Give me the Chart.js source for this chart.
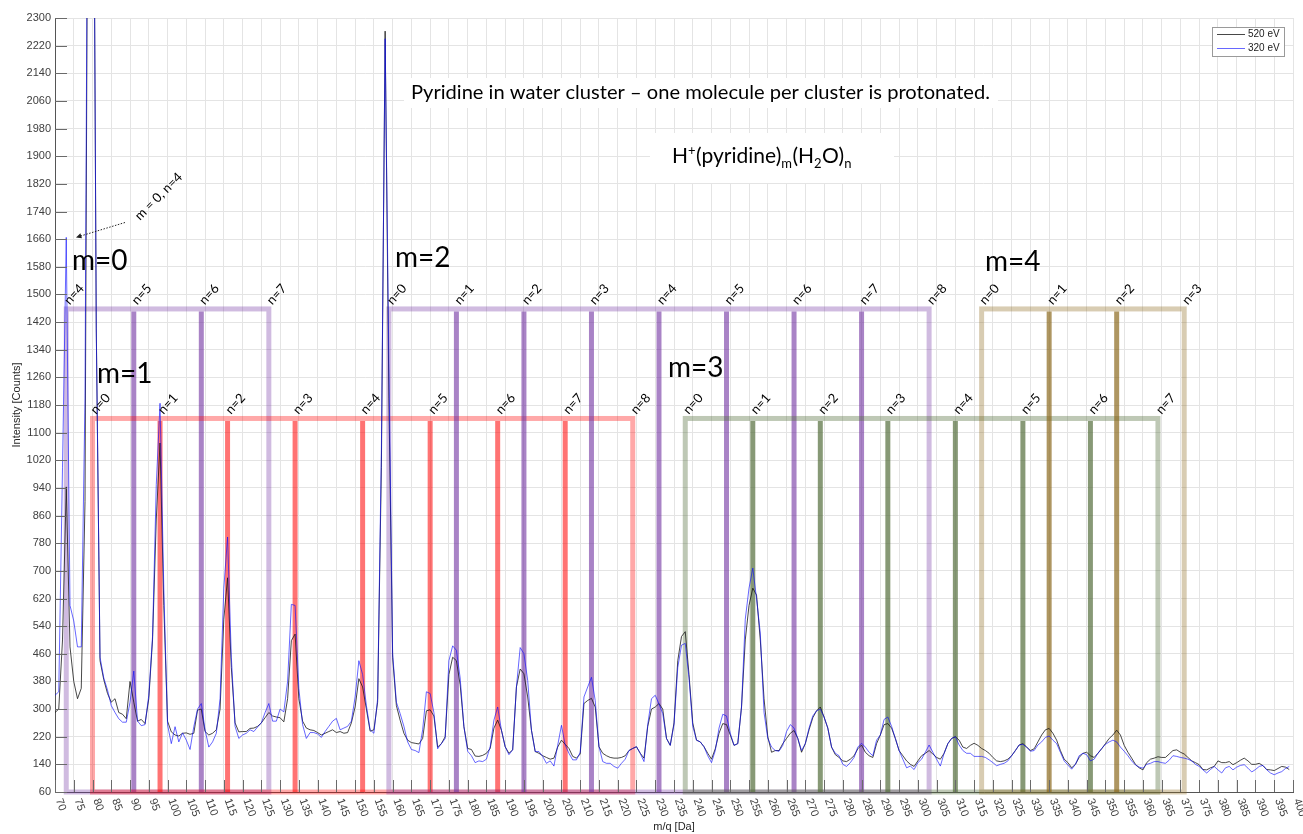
<!DOCTYPE html>
<html><head><meta charset="utf-8">
<script src="https://cdn.jsdelivr.net/npm/chart.js@4.4.0/dist/chart.umd.min.js"></script>
<style>html,body{margin:0;padding:0;background:#fff;overflow:hidden}canvas{display:block}</style>
</head><body>
<canvas id="c" width="1303" height="834"></canvas>
<script>
// ---------- data ----------
const massAxis = [
70,71,72,73,74,75,76,77,78,79,80,81,82,83,84,85,86,87,88,89,
90,91,92,93,94,95,96,97,98,99,100,101,102,103,104,105,106,107,108,109,
110,111,112,113,114,115,116,117,118,119,120,121,122,123,124,125,126,127,128,129,
130,131,132,133,134,135,136,137,138,139,140,141,142,143,144,145,146,147,148,149,
150,151,152,153,154,155,156,157,158,159,160,161,162,163,164,165,166,167,168,169,
170,171,172,173,174,175,176,177,178,179,180,181,182,183,184,185,186,187,188,189,
190,191,192,193,194,195,196,197,198,199,200,201,202,203,204,205,206,207,208,209,
210,211,212,213,214,215,216,217,218,219,220,221,222,223,224,225,226,227,228,229,
230,231,232,233,234,235,236,237,238,239,240,241,242,243,244,245,246,247,248,249,
250,251,252,253,254,255,256,257,258,259,260,261,262,263,264,265,266,267,268,269,
270,271,272,273,274,275,276,277,278,279,280,281,282,283,284,285,286,287,288,289,
290,291,292,293,294,295,296,297,298,299,300,301,302,303,304,305,306,307,308,309,
310,311,312,313,314,315,316,317,318,319,320,321,322,323,324,325,326,327,328,329,
330,331,332,333,334,335,336,337,338,339,340,341,342,343,344,345,346,347,348,349,
350,351,352,353,354,355,356,357,358,359,360,361,362,363,364,365,366,367,368,369,
370,371,372,373,374,375,376,377,378,379,380,381,382,383,384,385,386,387,388,389,
390,391,392,393,394,395,396,397,398,399];

const intensity520eV = [
290,300,500,943,480,380,330,360,900,3500,
3500,1400,440,385,345,320,330,290,285,272,
380,320,265,270,258,330,500,850,1070,600,
265,234,225,222,230,231,227,230,297,300,
235,225,230,240,300,560,680,420,260,234,
235,235,244,245,250,260,275,290,280,277,
275,263,330,498,517,330,265,245,240,238,
232,225,230,235,240,232,235,230,232,260,
306,388,364,300,236,240,320,1000,2262,1200,
450,310,268,230,210,203,201,199,215,295,
298,280,190,200,220,400,450,440,370,249,
186,183,164,163,166,172,186,245,268,239,
191,172,182,364,416,402,335,239,177,172,
165,160,155,158,190,210,198,186,163,158,
170,316,325,331,306,191,172,165,160,158,
158,160,165,180,186,191,172,158,250,300,
306,316,300,215,195,260,440,510,524,400,
260,210,205,191,172,155,185,230,258,255,
225,195,200,306,500,600,650,630,500,330,
220,175,180,180,200,215,230,238,215,175,
200,240,275,295,306,277,245,190,168,160,
150,148,155,165,185,196,175,165,160,200,
225,255,258,245,215,180,165,150,140,134,
150,165,172,180,170,160,155,172,200,215,
220,210,190,186,195,201,195,186,180,172,
160,150,148,150,155,165,180,196,200,190,
180,185,205,225,240,244,230,210,180,155,
145,130,140,160,172,175,165,160,172,185,
200,215,225,239,225,195,175,158,140,130,
124,145,155,158,162,160,160,170,180,182,
175,170,160,150,145,139,125,124,130,134,
150,145,145,148,139,145,152,158,150,140,
140,143,136,125,124,122,128,134,132,125];

const intensity320eV = [
340,350,1000,1665,600,555,480,480,1200,3500,
3500,1400,450,390,355,310,290,272,262,262,
320,410,265,252,255,340,510,950,1185,650,
255,200,249,205,231,210,183,249,300,316,
240,190,205,230,330,650,798,450,250,215,
225,230,240,235,248,260,290,316,265,265,
300,292,380,603,600,360,255,215,232,232,
228,218,235,250,265,273,240,245,250,265,
335,440,400,310,240,230,330,1050,2240,1300,
460,320,287,250,205,183,180,174,240,350,
345,290,185,200,215,440,483,470,390,249,
178,165,145,150,148,155,191,268,306,239,
191,168,182,364,478,460,383,239,177,177,
163,143,150,135,195,253,196,172,153,153,
175,335,364,392,325,191,148,143,143,134,
129,143,155,180,186,191,172,148,255,330,
340,315,287,215,195,255,420,485,490,390,
250,210,205,191,165,145,180,245,285,280,
230,195,200,306,560,650,708,620,520,290,
215,190,180,178,195,235,255,245,215,180,
200,245,280,295,300,277,245,190,172,165,
140,134,145,160,190,201,190,175,165,210,
225,270,277,250,215,180,155,130,135,125,
145,155,175,196,175,155,135,172,200,215,
220,196,180,172,172,163,163,163,160,153,
145,136,140,143,150,165,180,196,198,190,
178,180,196,205,218,222,210,200,175,150,
138,126,140,165,172,168,150,155,172,186,
198,205,210,205,190,178,165,150,138,132,
129,140,143,148,148,145,143,152,165,163,
160,158,155,150,140,134,124,115,125,134,
124,115,130,134,124,132,137,139,129,118,
125,134,137,124,115,110,115,119,128,134];

const xTickValues = [70,75,80,85,90,95,100,105,110,115,120,125,130,135,140,145,150,155,160,165,170,175,180,185,190,195,200,205,210,215,220,225,230,235,240,245,250,255,260,265,270,275,280,285,290,295,300,305,310,315,320,325,330,335,340,345,350,355,360,365,370,375,380,385,390,395,400];
const yTickValues = [60,140,220,300,380,460,540,620,700,780,860,940,1020,1100,1180,1260,1340,1420,1500,1580,1660,1740,1820,1900,1980,2060,2140,2220,2300];

// cluster series H+(pyridine)m(H2O)n : water counts n and marked m/q positions
const m0N = [4,5,6,7];             const m0Mz = [73,91,109,127];
const m1N = [0,1,2,3,4,5,6,7,8];   const m1Mz = [80,98,116,134,152,170,188,206,224];
const m2N = [0,1,2,3,4,5,6,7,8];   const m2Mz = [159,177,195,213,231,249,267,285,303];
const m3N = [0,1,2,3,4,5,6,7];     const m3Mz = [238,256,274,292,310,328,346,364];
const m4N = [0,1,2,3];             const m4Mz = [317,335,353,371];
const boxTops = [1458,1141,1458,1141,1458];   // counts, for m = 0..4
const seriesLabels = ['m=0','m=1','m=2','m=3','m=4'];
const seriesLabelAt = [[72,1570],[97,1244],[395,1579],[668,1262],[985,1568]]; // [x px, baseline count]
const legendLabels = ['520 eV','320 eV'];
const titleText = 'Pyridine in water cluster \u2013 one molecule per cluster is protonated.';
const arrowTarget = [75.6, 1665];   // m/q, counts (m = 0, n = 4 peak)

// ---------- styles ----------
const seriesStyles = [
  {edge:'rgba(112,48,160,0.33)', line:'rgba(112,48,160,0.6)'},
  {edge:'rgba(255,0,0,0.34)',   line:'rgba(255,0,0,0.55)'},
  {edge:'rgba(112,48,160,0.33)', line:'rgba(112,48,160,0.6)'},
  {edge:'rgba(84,110,60,0.38)',  line:'rgba(84,110,60,0.7)'},
  {edge:'rgba(140,105,30,0.34)', line:'rgba(140,105,30,0.7)'}
];
const clusterSeries = [
  {n:m0N, mz:m0Mz}, {n:m1N, mz:m1Mz}, {n:m2N, mz:m2Mz}, {n:m3N, mz:m3Mz}, {n:m4N, mz:m4Mz}
].map((s,i)=>Object.assign(s,{top:boxTops[i]},seriesStyles[i]));

const COL520 = 'rgba(20,20,20,0.78)';
const COL320 = 'rgba(10,10,255,0.62)';
const LBL = '"Lato", "Open Sans", sans-serif';
const AX = '"Liberation Sans", Arial, sans-serif';

const markerPlugin = {
  id:'markers',
  beforeDatasetsDraw(chart){
    const {ctx, scales:{x,y}} = chart;
    const y0 = y.getPixelForValue(60);
    ctx.save();
    ctx.lineWidth = 5; ctx.lineCap = 'butt';
    clusterSeries.forEach(s=>{
      const xs = s.mz.map(v=>x.getPixelForValue(v));
      const yt = y.getPixelForValue(s.top);
      ctx.strokeStyle = s.edge;
      ctx.strokeRect(xs[0], yt, xs[xs.length-1]-xs[0], y0-yt);
      ctx.strokeStyle = s.line;
      for (let i=1;i<xs.length-1;i++){
        ctx.beginPath(); ctx.moveTo(xs[i], y0); ctx.lineTo(xs[i], yt+2.5); ctx.stroke();
      }
    });
    ctx.restore();
  }
};

const overlayPlugin = {
  id:'overlay',
  afterDraw(chart){
    const {ctx, scales:{x,y}, chartArea:ca} = chart;
    ctx.save();
    // inner tick marks
    ctx.strokeStyle = '#6a6a6a'; ctx.lineWidth = 1;
    xTickValues.forEach(v=>{
      const px = Math.round(x.getPixelForValue(v))+0.5;
      ctx.beginPath(); ctx.moveTo(px, ca.bottom); ctx.lineTo(px, ca.bottom-12); ctx.stroke();
    });
    yTickValues.forEach(v=>{
      const py = Math.round(y.getPixelForValue(v))+0.5;
      ctx.beginPath(); ctx.moveTo(ca.left, py); ctx.lineTo(ca.left+12, py); ctx.stroke();
    });
    // x tick labels (rotated clockwise)
    ctx.fillStyle = '#404040'; ctx.font = '11px '+AX;
    ctx.textAlign = 'left'; ctx.textBaseline = 'middle';
    xTickValues.forEach(v=>{
      const px = x.getPixelForValue(v);
      ctx.save(); ctx.translate(px+3.5, ca.bottom+7); ctx.rotate(70*Math.PI/180);
      ctx.fillText(String(v), 0, 0); ctx.restore();
    });
    // n labels
    ctx.fillStyle = '#000'; ctx.font = '13px '+LBL;
    ctx.textBaseline = 'alphabetic';
    clusterSeries.forEach(s=>{
      const yt = y.getPixelForValue(s.top);
      s.mz.forEach((m,i)=>{
        const px = x.getPixelForValue(m);
        ctx.save(); ctx.translate(px+3.5, yt-3.5); ctx.rotate(-48*Math.PI/180);
        ctx.fillText('n='+s.n[i], 0, 0); ctx.restore();
      });
    });
    // m labels
    ctx.font = '28px '+LBL;
    seriesLabels.forEach((t,i)=>{
      ctx.fillText(t, seriesLabelAt[i][0], y.getPixelForValue(seriesLabelAt[i][1]));
    });
    // annotation arrow "m = 0, n=4"
    ctx.save();
    ctx.strokeStyle = '#222'; ctx.lineWidth = 1; ctx.setLineDash([1.5,1.5]);
    const ax0 = 125, ay0 = 222.5;
    const ax1 = x.getPixelForValue(arrowTarget[0]), ay1 = y.getPixelForValue(arrowTarget[1]);
    const ang = Math.atan2(ay1-ay0, ax1-ax0);
    ctx.beginPath(); ctx.moveTo(ax0, ay0); ctx.lineTo(ax1-4*Math.cos(ang), ay1-4*Math.sin(ang)); ctx.stroke();
    ctx.setLineDash([]);
    ctx.fillStyle = '#222';
    ctx.beginPath(); ctx.moveTo(ax1, ay1);
    ctx.lineTo(ax1-6*Math.cos(ang-0.45), ay1-6*Math.sin(ang-0.45));
    ctx.lineTo(ax1-6*Math.cos(ang+0.45), ay1-6*Math.sin(ang+0.45));
    ctx.closePath(); ctx.fill();
    ctx.restore();
    ctx.save(); ctx.fillStyle='#000'; ctx.font = '13px '+LBL;
    ctx.translate(140, 221); ctx.rotate(-45*Math.PI/180); ctx.fillText('m = 0, n=4', 0, 0); ctx.restore();
    // title text box
    ctx.font = '17px '+LBL;
    let w = ctx.measureText(titleText).width;
    const fs = 17*579/w;
    ctx.font = fs.toFixed(2)+'px '+LBL;
    ctx.fillStyle = '#fff'; ctx.fillRect(404, 78, 594, 30);
    ctx.fillStyle = '#000'; ctx.fillText(titleText, 411, 99);
    // formula H+(pyridine)m(H2O)n
    ctx.fillStyle = '#fff'; ctx.fillRect(650, 133, 244, 50);
    ctx.fillStyle = '#000';
    const parts = [['H',0],['+',-1],['(pyridine)',0],['m',1],['(H',0],['2',1],['O)',0],['n',1]];
    const big = 21, small = 13;
    let cx = 672; const base = 163;
    parts.forEach(([t,k])=>{
      ctx.font = (k===0?big:small)+'px '+LBL;
      const dy = k===0?0:(k<0?-8:5);
      ctx.fillText(t, cx, base+dy);
      cx += ctx.measureText(t).width + (k!==0?0.5:0);
    });
    // legend
    ctx.fillStyle = '#fff'; ctx.fillRect(1212.5, 27.5, 72, 29);
    ctx.strokeStyle = '#9a9a9a'; ctx.lineWidth = 1; ctx.strokeRect(1212.5, 27.5, 72, 29);
    const lc = [COL520, COL320];
    ctx.font = '10px '+AX; ctx.textBaseline = 'middle';
    legendLabels.forEach((t,i)=>{
      const ly = 34.5 + i*14;
      ctx.strokeStyle = lc[i]; ctx.beginPath(); ctx.moveTo(1217, ly); ctx.lineTo(1245, ly); ctx.stroke();
      ctx.fillStyle = '#222'; ctx.fillText(t, 1248, ly);
    });
    ctx.restore();
  }
};

const mk = arr => massAxis.map((m,i)=>({x:m, y:arr[i]}));

new Chart(document.getElementById('c'), {
  type:'line',
  data:{datasets:[
    {label:legendLabels[0], data:mk(intensity520eV), borderColor:COL520, borderWidth:1, pointRadius:0, tension:0, order:1},
    {label:legendLabels[1], data:mk(intensity320eV), borderColor:COL320, borderWidth:1, pointRadius:0, tension:0, order:0}
  ]},
  options:{
    responsive:false, animation:false, devicePixelRatio:1,
    layout:{padding:{top:18, right:10, left:0, bottom:0}},
    plugins:{legend:{display:false}, tooltip:{enabled:false}},
    scales:{
      x:{type:'linear', min:70, max:400,
        afterBuildTicks:s=>{s.ticks = xTickValues.map(v=>({value:v}));},
        ticks:{display:false},
        grid:{color:'#e4e4e4', drawTicks:false},
        border:{display:true, color:'#555'},
        title:{display:true, text:'m/q [Da]', font:{family:AX, size:11}, color:'#262626', padding:{top:0,bottom:0}},
        afterFit:s=>{s.height = 42;}
      },
      y:{type:'linear', min:60, max:2300,
        afterBuildTicks:s=>{s.ticks = yTickValues.map(v=>({value:v}));},
        ticks:{font:{family:AX, size:11}, color:'#404040', padding:4, callback:v=>String(v)},
        grid:{color:'#e4e4e4', drawTicks:false},
        border:{display:true, color:'#555'},
        title:{display:true, text:'Intensity [Counts]', font:{family:AX, size:11}, color:'#262626', padding:{top:10,bottom:0}},
        afterFit:s=>{s.width = 55;}
      }
    }
  },
  plugins:[markerPlugin, overlayPlugin]
});
</script>
</body></html>
